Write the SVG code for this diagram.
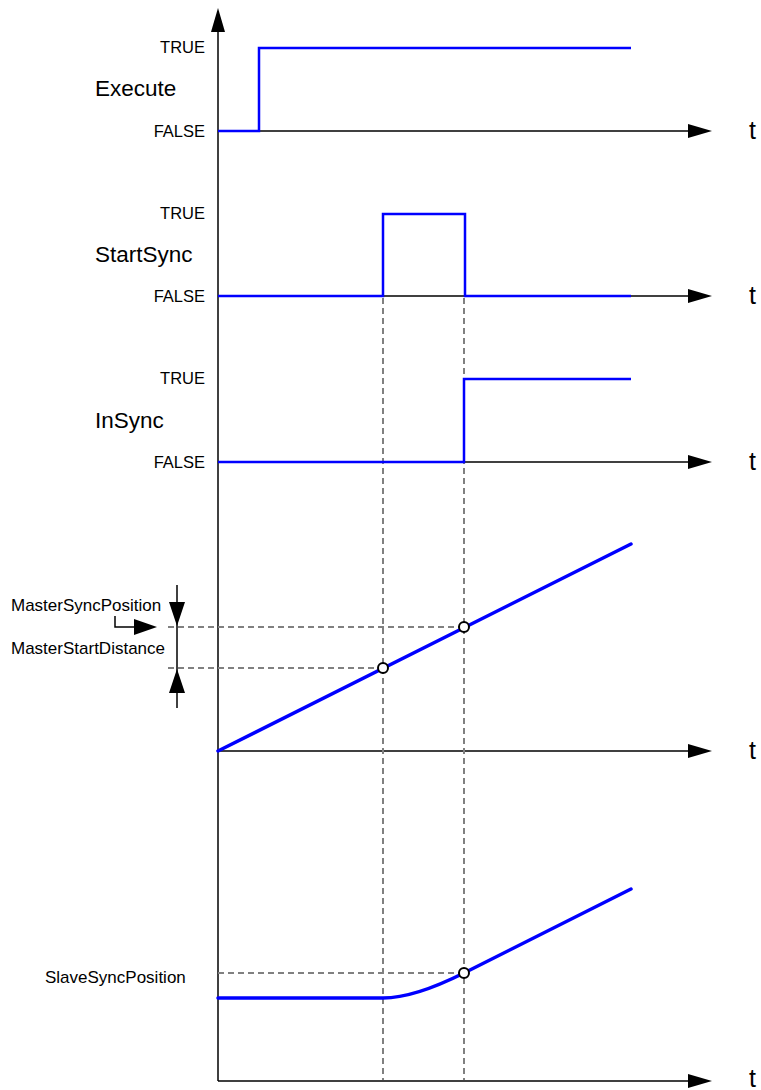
<svg xmlns="http://www.w3.org/2000/svg" width="761" height="1090" viewBox="0 0 761 1090">
  <style>
    .axis { stroke: #000; stroke-width: 1.5; fill: none; }
    .sig { stroke: #0000FF; stroke-width: 2.5; fill: none; }
    .ramp { stroke: #0000FF; stroke-width: 3.5; fill: none; stroke-linecap: round; }
    .guide { stroke: #808080; stroke-width: 2; stroke-dasharray: 6 4; fill: none; }
    .dot { fill: #fff; stroke: #000; stroke-width: 2; }
    .lvl { font-family: "Liberation Sans", Arial, sans-serif; font-size: 16.5px; fill: #000; text-anchor: end; }
    .name { font-family: "Liberation Sans", Arial, sans-serif; font-size: 22.5px; fill: #000; }
    .small { font-family: "Liberation Sans", Arial, sans-serif; font-size: 17px; fill: #000; }
    .t { font-family: "Liberation Sans", Arial, sans-serif; font-size: 25px; fill: #000; }
    .head { fill: #000; }
  </style>

  <!-- axes -->
  <g id="axes">
    <line class="axis" x1="218" y1="30" x2="218" y2="1081"/>
    <polygon class="head" points="218,8 211,32 225,32"/>
    <line class="axis" x1="218" y1="131" x2="690" y2="131"/>
    <polygon class="head" points="712,131 688,124 688,138"/>
    <line class="axis" x1="218" y1="296" x2="690" y2="296"/>
    <polygon class="head" points="712,296 688,289 688,303"/>
    <line class="axis" x1="218" y1="462" x2="690" y2="462"/>
    <polygon class="head" points="712,462 688,455 688,469"/>
    <line class="axis" x1="218" y1="751" x2="690" y2="751"/>
    <polygon class="head" points="712,751 688,744 688,758"/>
    <line class="axis" x1="218" y1="1081" x2="690" y2="1081"/>
    <polygon class="head" points="712,1081 688,1074 688,1088"/>
    <text class="t" x="749" y="139">t</text>
    <text class="t" x="749" y="304">t</text>
    <text class="t" x="749" y="470">t</text>
    <text class="t" x="749" y="759">t</text>
    <text class="t" x="749" y="1087">t</text>
  </g>

  <!-- dashed guide lines -->
  <g id="guides">
    <line class="guide" x1="383" y1="298" x2="383" y2="1080"/>
    <line class="guide" x1="464" y1="298" x2="464" y2="1080"/>
    <line class="guide" x1="168" y1="627" x2="464" y2="627"/>
    <line class="guide" x1="168" y1="668" x2="383" y2="668"/>
    <line class="guide" x1="218" y1="973" x2="464" y2="973"/>
  </g>

  <!-- Execute -->
  <g id="execute">
    <text class="lvl" x="205" y="53">TRUE</text>
    <text class="name" x="95" y="96">Execute</text>
    <text class="lvl" x="205" y="137">FALSE</text>
    <path class="sig" d="M218,131 H259 V48 H631"/>
  </g>

  <!-- StartSync -->
  <g id="startsync">
    <text class="lvl" x="205" y="219">TRUE</text>
    <text class="name" x="95" y="262">StartSync</text>
    <text class="lvl" x="205" y="302">FALSE</text>
    <path class="sig" d="M218,296 H383 V214 H465 V296 H631"/>
  </g>

  <!-- InSync -->
  <g id="insync">
    <text class="lvl" x="205" y="384">TRUE</text>
    <text class="name" x="95" y="428">InSync</text>
    <text class="lvl" x="205" y="468">FALSE</text>
    <path class="sig" d="M218,462 H464 V379 H631"/>
  </g>

  <!-- master position ramp -->
  <g id="master">
    <path class="ramp" d="M218,751 L631,544"/>
    <circle class="dot" cx="383" cy="668" r="5"/>
    <circle class="dot" cx="464" cy="627" r="5"/>
  </g>

  <!-- master distance dimension -->
  <g id="master-dimension">
    <line class="axis" x1="177" y1="585" x2="177" y2="708"/>
    <polygon class="head" points="177,626 169,602 185,602"/>
    <polygon class="head" points="177,669 169,693 185,693"/>
    <text class="small" x="11" y="611">MasterSyncPosition</text>
    <text class="small" x="11" y="654">MasterStartDistance</text>
    <polyline class="axis" points="115,616 115,627 135,627"/>
    <polygon class="head" points="157,627 134,619 134,635"/>
  </g>

  <!-- slave position -->
  <g id="slave">
    <path class="ramp" d="M218,998 H383 Q414,998 464,973 L631,889"/>
    <circle class="dot" cx="464" cy="973" r="5"/>
    <text class="small" x="45" y="983">SlaveSyncPosition</text>
  </g>
</svg>
